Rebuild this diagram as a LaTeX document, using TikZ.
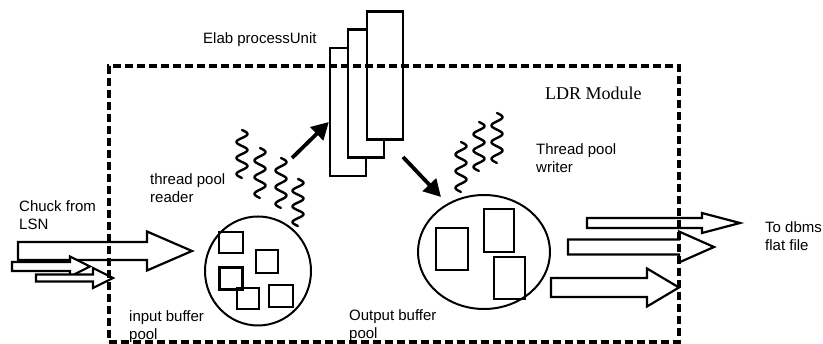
\documentclass[tikz,border=0pt]{standalone}
\usepackage{fontspec}
\setmainfont{Liberation Sans}
\newfontfamily\ldrfont{Liberation Serif}
\usetikzlibrary{arrows.meta,shapes.geometric}

% hollow block arrow: start x, head base x, tip x, centre y, shaft half-height, head half-height
\newcommand\hollowarrow[6]{%
  \filldraw[blockarrow] ({#1},{#4-#5}) -- ({#2},{#4-#5}) -- ({#2},{#4-#6}) -- ({#3},{#4})
    -- ({#2},{#4+#6}) -- ({#2},{#4+#5}) -- ({#1},{#4+#5}) -- cycle;}
% wavy thread symbol: centre x, top y, height
\newcommand\threadwave[3]{%
  \draw[thread] plot[variable=\t, domain=0:1, samples=70, smooth]
    ({#1+5.5*sin(\t*1080)}, {#2+#3*\t});}

\begin{document}
\begin{tikzpicture}[x=1pt,y=-1pt,
  lbl/.style={font=\fontsize{15}{18}\selectfont, inner sep=0pt, anchor=base west, align=left},
  unitbox/.style={draw, fill=white, line width=2.3pt, inner sep=0pt,
    minimum width=36pt, minimum height=128pt},
  bufbox/.style={draw, line width=2.4pt, inner sep=0pt},
  pool/.style={draw, ellipse, line width=2pt, inner sep=0pt},
  blockarrow/.style={fill=white, draw=black, line width=2.2pt, line join=miter},
  thread/.style={line width=2.4pt, line cap=round},
  bigarrow/.style={-{Triangle[length=17pt,width=18pt]}, line width=3.8pt},
  module/.style={draw, line width=3.3pt, dash pattern=on 8pt off 4pt,
    minimum width=570pt, minimum height=276pt, inner sep=0pt}
]
\useasboundingbox (0,0) rectangle (823,344);

% labels (multi-line labels are placed by the baseline of their last line)
\node[lbl] (elab) at (203,44) {Elab processUnit};
\node[lbl] (chuck) at (19,230) {Chuck from\\LSN};
\node[lbl] (reader) at (150,203) {thread pool\\reader};
\node[lbl] (inbuf) at (129,340) {input buffer\\pool};
\node[lbl] (outbuf) at (349,339) {Output buffer\\pool};
\node[lbl] (writer) at (536,173) {Thread pool\\writer};
\node[lbl] (dbms) at (765,251) {To dbms\\flat file};
\node[lbl, font=\ldrfont\fontsize{18}{20}\selectfont] (ldrlabel) at (545,100) {LDR Module};

% stacked processing units
\node[unitbox] (pu1) at (348,112) {};
\node[unitbox] (pu2) at (366,93.5) {};
\node[unitbox] (pu3) at (385,75.5) {};

% buffer pools
\node[pool, minimum width=106pt, minimum height=109pt] (inpool) at (258,271) {};
\node[pool, minimum width=132pt, minimum height=114pt] (outpool) at (484,252) {};

% input buffers
\node[bufbox, minimum width=24pt, minimum height=21pt] (ib1) at (231,242.5) {};
\node[bufbox, minimum width=22pt, minimum height=23pt] (ib2) at (267,261.5) {};
\node[bufbox, minimum width=23pt, minimum height=22pt, line width=3pt] (ib3) at (230.5,279) {};
\node[bufbox, minimum width=22pt, minimum height=21pt] (ib4) at (248,298.5) {};
\node[bufbox, minimum width=24pt, minimum height=22pt] (ib5) at (281,296) {};

% output buffers
\node[bufbox, minimum width=32pt, minimum height=42pt] (ob1) at (452,249) {};
\node[bufbox, minimum width=30pt, minimum height=43pt] (ob2) at (499,230.5) {};
\node[bufbox, minimum width=31pt, minimum height=42pt] (ob3) at (509.5,278) {};

% reader threads
\threadwave{242}{130}{48}
\threadwave{260}{148}{50}
\threadwave{281}{158}{50}
\threadwave{298}{179}{47}

% writer threads
\threadwave{461}{142}{50}
\threadwave{479}{122}{49}
\threadwave{497}{113}{50}

% data flow into and out of the processing units
\coordinate (readfrom) at (292,158);
\coordinate (readto) at (pu1.west |- 0,122);
\coordinate (writefrom) at (403,157);
\coordinate (writeto) at (441,197);
\draw[bigarrow] (readfrom) -- (readto);
\draw[bigarrow] (writefrom) -- (writeto);

% incoming chunks
\hollowarrow{18}{147}{192}{251}{9}{19.5}
\hollowarrow{12}{70}{90}{266.5}{4.5}{10}
\hollowarrow{36}{93}{113}{278}{3.5}{10}

% outgoing data
\hollowarrow{551}{647}{679}{287.5}{9.5}{19}
\hollowarrow{568}{679}{714}{247}{7.5}{15.5}
\hollowarrow{587}{702}{740}{223}{5}{10}

% module boundary
\node[module] (ldr) at (394,204) {};
\end{tikzpicture}
\end{document}
